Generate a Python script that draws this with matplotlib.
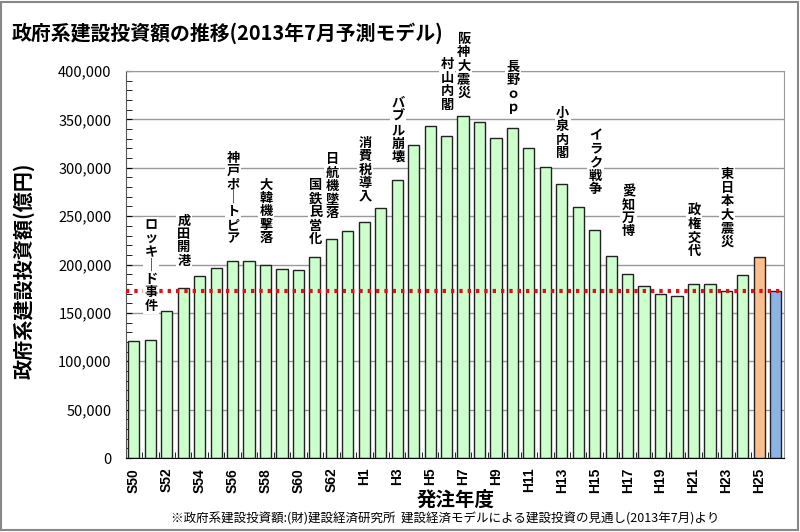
import matplotlib.pyplot as plt
import numpy as np
from matplotlib.patches import Rectangle

plt.rcParams['font.family'] = ['Noto Sans CJK JP', 'DejaVu Sans']

# 年度 (S50〜H25, H26)
years = ['S50', 'S51', 'S52', 'S53', 'S54', 'S55', 'S56', 'S57', 'S58', 'S59',
         'S60', 'S61', 'S62', 'S63', 'H1', 'H2', 'H3', 'H4', 'H5', 'H6',
         'H7', 'H8', 'H9', 'H10', 'H11', 'H12', 'H13', 'H14', 'H15', 'H16',
         'H17', 'H18', 'H19', 'H20', 'H21', 'H22', 'H23', 'H24', 'H25', 'H26']
# 政府系建設投資額 (億円)
invest = [120500, 122300, 151600, 175800, 188600, 196900, 203800, 203800, 199700, 195500,
          194500, 208300, 226200, 234200, 243500, 258700, 287700, 324000, 343000, 333300,
          353000, 346800, 330600, 341300, 320200, 300500, 282900, 259800, 235200, 209000,
          190400, 178200, 170000, 167500, 179600, 180300, 172300, 188900, 208000, 172300]
base_line = 172300

# 出来事 (ラベル, 年度, 文字の上端の値)  縦書きなので長音は縦棒
events = ['ロッキ｜ド事件', '成田開港', '神戸ポ｜トピア', '大韓機撃落', '国鉄民営化',
          '日航機墜落', '消費税導入', 'バブル崩壊', '村山内閣', '阪神大震災', '長野ｏｐ',
          '小泉内閣', 'イラク戦争', '愛知万博', '政権交代', '東日本大震災']
event_years = ['S51', 'S53', 'S56', 'S58', 'S61', 'S62', 'H1', 'H3', 'H6', 'H7', 'H10',
               'H13', 'H15', 'H17', 'H21', 'H23']
event_tops = [248000, 253000, 317600, 290100, 289000, 316000, 333100, 374200, 414200,
              440500, 411400, 363800, 340800, 283200, 263300, 300500]

colors = ['#CCFFCC'] * (len(years) - 2) + ['#FBBF8E', '#8DB3E6']

fig = plt.figure(figsize=(8, 5.32), dpi=100)
ax = fig.add_axes([0.157, 0.139, 0.823, 0.7275])

x = np.arange(len(years))
ax.bar(x, invest, width=0.68, color=colors, edgecolor='#222222', linewidth=1, zorder=2)
ax.axhline(base_line, color='#E0101A', linestyle=(0, (0.8, 1.2)), linewidth=3, zorder=3)

ax.set_xlim(-0.5, len(years) - 0.5)
ax.set_ylim(0, 400000)
ax.set_yticks(np.arange(0, 400001, 50000))
ax.set_yticklabels([f'{v:,}' for v in range(0, 400001, 50000)], fontsize=10.5)
ax.set_yticks(np.arange(0, 400001, 10000), minor=True)
ax.grid(axis='y', color='#999999', linewidth=1, zorder=0)
ax.tick_params(axis='y', which='both', direction='in', length=4, pad=10)

ax.set_xticks(x[:-1:2])
ax.set_xticklabels(years[:-1:2], rotation=90, fontsize=10, fontweight='bold',
                   family=['Liberation Sans', 'DejaVu Sans'])
ax.set_xticks(x[:-1] + 0.5, minor=True)
ax.tick_params(axis='x', which='major', length=0, pad=7)
ax.tick_params(axis='x', which='minor', direction='in', length=4)

for s in ['top', 'right']:
    ax.spines[s].set_color('#999999')
ax.spines['left'].set_color('#555555')

for name, yr, top in zip(events, event_years, event_tops):
    ax.text(years.index(yr) + 0.05, top, '\n'.join(name), ha='center', va='top',
            fontsize=9.5, fontweight='bold', linespacing=0.95, clip_on=False, zorder=4,
            bbox=dict(facecolor='white', edgecolor='none', pad=1))

fig.text(0.015, 0.938, '政府系建設投資額の推移(2013年7月予測モデル)', fontsize=14.3,
         fontweight='bold', ha='left', va='center')
fig.text(0.03, 0.492, '政府系建設投資額(億円)', rotation=90, fontsize=14.5,
         fontweight='bold', ha='center', va='center')
fig.text(0.569, 0.06, '発注年度', fontsize=14, fontweight='bold', ha='center', va='center')
fig.text(0.556, 0.025, '※政府系建設投資額:(財)建設経済研究所  建設経済モデルによる建設投資の見通し(2013年7月)より',
         fontsize=9, ha='center', va='center')

fig.patches.append(Rectangle((0.001, 0.003), 0.996, 0.993, transform=fig.transFigure,
                             fill=False, edgecolor='#888888', linewidth=1.5))

fig.savefig('out.png', dpi=100)
